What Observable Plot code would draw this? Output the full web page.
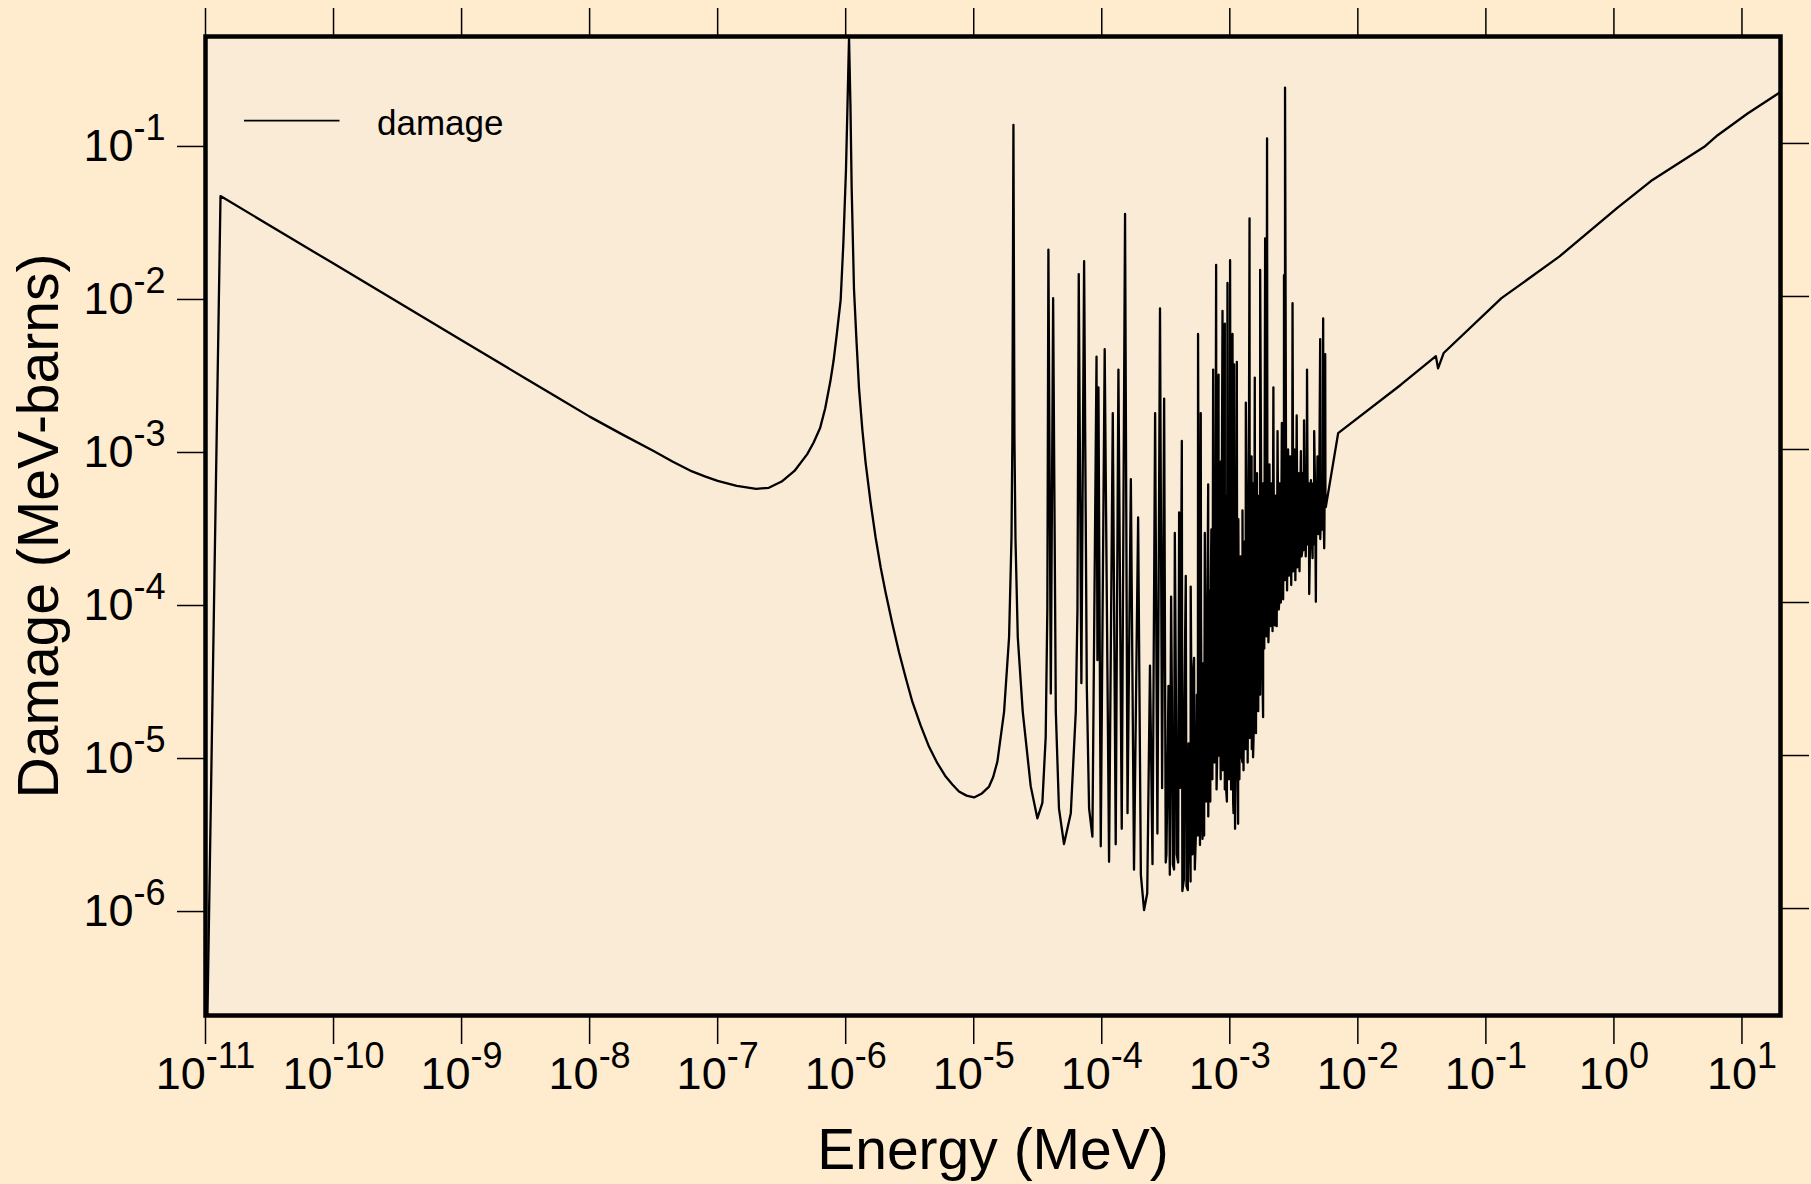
<!DOCTYPE html>
<html><head><meta charset="utf-8">
<script src="https://cdn.jsdelivr.net/npm/d3@7"></script>
<script src="https://cdn.jsdelivr.net/npm/@observablehq/plot@0.6"></script>
<style>
html,body{margin:0;padding:0;background:#FFEBCD;}
#wrap{position:relative;width:1811px;height:1184px;}
</style></head><body><div id="wrap"></div>
<script>
// Energy (MeV) — traced points of the damage curve
const energy = [
1e-11, 1.31e-11, 1e-10, 1e-9, 3.16e-9, 5.62e-9, 1e-8, 1.78e-8, 3.16e-8, 4.47e-8, 6.31e-8, 7.94e-8, 1e-7, 1.41e-7, 2.0e-7, 2.51e-7, 3.16e-7, 3.98e-7, 5.01e-7, 5.62e-7, 6.31e-7, 6.92e-7, 7.59e-7,
8.04e-7, 8.51e-7, 9.14e-7, 9.59e-7, 1.005e-6, 1.033e-6, 1.062e-6, 1.089e-6, 1.114e-6, 1.161e-6, 1.216e-6, 1.271e-6, 1.349e-6, 1.432e-6, 1.567e-6, 1.714e-6, 1.875e-6, 2.05e-6, 2.317e-6, 2.61e-6,
2.95e-6, 3.32e-6, 3.855e-6, 4.48e-6, 5.2e-6, 6.04e-6, 6.81e-6, 7.67e-6, 8.79e-6, 1.005e-5, 1.148e-5, 1.318e-5, 1.419e-5, 1.53e-5, 1.726e-5, 1.888e-5, 1.972e-5, 2.004e-5, 2.042e-5, 2.08e-5,
2.118e-5, 2.208e-5, 2.415e-5, 2.786e-5, 3.14e-5, 3.436e-5, 3.648e-5, 3.758e-5,
3.83e-5, 4.0e-5, 4.17e-5, 4.375e-5, 4.63e-5, 5.07e-5, 5.73e-5, 6.27e-5, 6.46e-5, 6.61e-5, 6.93e-5, 7.28e-5, 7.64e-5, 7.96e-5, 8.45e-5, 9.10e-5, 9.25e-5, 9.42e-5, 9.82e-5, 1.054e-4,
1.14e-4, 1.219e-4, 1.285e-4, 1.349e-4, 1.432e-4, 1.52e-4, 1.589e-4, 1.687e-4, 1.786e-4, 1.923e-4, 2.02e-4, 2.14e-4, 2.265e-4, 2.38e-4, 2.49e-4, 2.61e-4, 2.72e-4, 2.85e-4, 2.96e-4, 3.07e-4,
3.2e-4, 3.32e-4, 3.40e-4, 3.48e-4, 3.59e-4, 3.72e-4, 3.85e-4, 4.02e-4, 4.09e-4, 4.22e-4, 4.375e-4, 4.53e-4, 4.70e-4, 4.95e-4, 5.11e-4, 5.26e-4, 5.42e-4, 5.65e-4, 5.79e-4, 5.93e-4,
6.12e-4, 6.38e-4, 6.58e-4, 6.78e-4, 6.93e-4, 7.11e-4, 7.23e-4, 7.41e-4, 7.59e-4, 7.82e-4, 8.02e-4, 8.17e-4, 8.36e-4, 8.51e-4, 8.65e-4, 8.77e-4, 8.97e-4, 9.14e-4, 9.35e-4, 9.59e-4,
9.82e-4, 1.005e-3, 1.03e-3, 1.05e-3, 1.069e-3, 1.081e-3, 1.099e-3, 1.135e-3, 1.161e-3, 1.219e-3, 1.256e-3, 1.334e-3, 1.374e-3, 1.426e-3, 1.452e-3, 1.479e-3, 1.52e-3, 1.567e-3, 1.603e-3, 1.633e-3,
1.667e-3, 1.726e-3, 1.77e-3, 1.82e-3, 1.888e-3, 1.923e-3, 1.954e-3, 2.03e-3, 2.19e-3, 2.25e-3, 2.36e-3, 2.43e-3, 2.55e-3, 2.61e-3, 2.65e-3, 2.68e-3, 2.70e-3, 2.79e-3, 3.09e-3, 3.18e-3,
3.33e-3, 3.43e-3, 3.59e-3, 3.70e-3, 3.80e-3, 3.89e-3, 4.01e-3, 4.17e-3, 4.30e-3, 4.43e-3, 4.56e-3, 4.70e-3, 4.84e-3, 4.93e-3, 5.08e-3, 5.20e-3, 5.36e-3, 5.46e-3, 5.56e-3, 5.62e-3,
7.02e-3, 2.17e-2, 4.07e-2, 4.23e-2, 4.68e-2, 0.1324, 0.374, 1.057, 1.945, 5.08, 6.46, 11.07, 20.0
];
// Damage (MeV-barns)
const damage = [
3.2e-8, 0.0453, 0.0164, 5.18e-3, 2.91e-3, 2.19e-3, 1.64e-3, 1.26e-3, 9.77e-4, 8.32e-4, 7.19e-4, 6.68e-4, 6.24e-4, 5.79e-4, 5.53e-4, 5.62e-4, 6.17e-4, 7.24e-4, 9.33e-4, 1.11e-3, 1.38e-3, 1.86e-3, 2.79e-3,
3.8e-3, 5.62e-3, 9.55e-3, 2.24e-2, 0.0668, 0.178, 0.49, 0.178, 0.0501, 0.0112, 5.01e-3, 2.51e-3, 1.35e-3, 8.15e-4, 4.47e-4, 2.65e-4, 1.70e-4, 1.164e-4, 7.24e-5, 4.73e-5,
3.2e-5, 2.24e-5, 1.567e-5, 1.14e-5, 8.91e-6, 7.29e-6, 6.46e-6, 5.82e-6, 5.47e-6, 5.32e-6, 5.62e-6, 6.27e-6, 7.24e-6, 9.12e-6, 1.93e-5, 5.93e-5, 2.65e-4, 1.186e-3, 0.1324, 1.186e-3,
2.65e-4, 5.93e-5, 1.93e-5, 6.31e-6, 3.89e-6, 4.90e-6, 1.318e-5, 9.12e-5,
2.02e-2, 2.54e-5, 9.75e-3, 1.95e-5, 4.52e-6, 2.64e-6, 4.2e-6, 1.95e-5, 9.12e-5, 1.40e-2, 2.97e-5, 1.70e-2, 2.85e-5, 4.52e-6, 2.95e-6, 4.04e-3, 4.2e-5, 2.55e-3, 2.55e-6, 4.52e-3,
2.02e-6, 1.73e-3, 2.63e-6, 3.33e-3, 3.32e-6, 3.46e-2, 4.2e-6, 6.4e-4, 1.795e-6, 3.6e-4, 1.66e-6, 9.77e-7, 1.26e-6, 3.87e-5, 1.95e-6, 1.73e-3, 3.09e-6, 8.36e-3, 6.12e-6, 2.15e-3,
2.26e-6, 2.85e-5, 1.66e-6, 1.094e-4, 1.94e-6, 2.85e-4, 2.26e-6, 3.88e-4, 6.14e-6, 1.138e-3, 1.54e-6, 1.49e-4, 1.32e-6, 1.27e-4, 2.26e-6, 4.35e-5, 2.85e-6, 5.69e-3, 4.2e-5, 1.73e-3,
2.85e-6, 2.85e-4, 6.14e-6, 5.92e-4, 9.02e-6, 1.43e-4, 1.94e-5, 3.33e-3, 9.02e-5, 1.61e-2, 1.32e-5, 3.08e-3, 4.2e-5, 8.36e-4, 1.43e-5, 8.05e-3, 4.2e-5, 6.64e-3, 6.14e-6, 1.227e-2,
1.95e-4, 1.73e-2, 6.14e-6, 5.69e-3, 4.2e-6, 3.6e-3, 3.32e-6, 3.74e-3, 3.58e-6, 1.54e-4, 9.02e-6, 2.02e-3, 2.85e-5, 3.24e-2, 4.2e-5, 9.02e-4, 9.73e-6, 2.95e-3, 2.0e-5, 1.78e-4,
1.95e-5, 1.49e-2, 4.2e-5, 1.78e-5, 2.4e-2, 3.16e-4, 0.108, 9.02e-5, 2.55e-3, 7.08e-5, 1.32e-3, 1e-4, 1.49e-3, 1.05e-4, 1.38e-2, 1.26e-3, 0.232, 1.95e-4, 9.04e-3, 1.95e-4,
1.67e-3, 1.95e-4, 9.75e-4, 2.26e-4, 1.55e-3, 2.85e-4, 3.33e-3, 1.135e-4, 6.31e-4, 1.95e-4, 1.32e-3, 1.01e-4, 9.02e-4, 2.85e-4, 5.27e-3, 4.2e-4, 7.18e-3, 2.26e-4, 4.2e-3, 4.2e-4,
1.28e-3, 2.65e-3, 4.07e-3, 3.39e-3, 4.27e-3, 9.75e-3, 1.82e-2, 3.78e-2, 5.68e-2, 9.51e-2, 0.1132, 0.157, 0.217
];
// Unresolved resonance band (dense oscillations between 3e-4 and 5.6e-3 MeV)
const bandEnergy = [
3.16e-4, 3.28e-4, 3.40e-4, 3.53e-4, 3.67e-4, 3.81e-4, 3.95e-4,
4.10e-4, 4.26e-4, 4.42e-4, 4.59e-4, 4.76e-4, 4.94e-4, 5.13e-4, 5.33e-4, 5.53e-4,
5.63e-4, 5.74e-4, 5.85e-4, 5.96e-4, 6.07e-4, 6.18e-4, 6.30e-4, 6.42e-4, 6.54e-4, 6.66e-4, 6.79e-4, 6.91e-4, 7.04e-4,
7.18e-4, 7.31e-4, 7.45e-4, 7.59e-4, 7.73e-4, 7.88e-4, 8.03e-4, 8.18e-4, 8.33e-4, 8.49e-4, 8.65e-4, 8.81e-4,
8.97e-4, 9.14e-4, 9.31e-4, 9.49e-4, 9.67e-4, 9.85e-4, 1.004e-3, 1.023e-3, 1.042e-3, 1.062e-3, 1.082e-3, 1.102e-3,
1.123e-3, 1.144e-3, 1.166e-3, 1.188e-3, 1.210e-3, 1.233e-3, 1.256e-3, 1.280e-3, 1.304e-3, 1.328e-3, 1.353e-3, 1.379e-3, 1.405e-3,
1.431e-3, 1.458e-3, 1.486e-3, 1.514e-3, 1.542e-3, 1.571e-3, 1.601e-3, 1.631e-3, 1.662e-3, 1.693e-3, 1.725e-3, 1.757e-3,
1.790e-3, 1.824e-3, 1.858e-3, 1.893e-3, 1.929e-3, 1.965e-3, 2.002e-3, 2.040e-3, 2.078e-3, 2.117e-3, 2.157e-3, 2.198e-3, 2.239e-3, 2.281e-3, 2.324e-3, 2.368e-3, 2.413e-3, 2.458e-3, 2.504e-3,
2.551e-3, 2.599e-3, 2.648e-3, 2.698e-3, 2.749e-3, 2.801e-3, 2.853e-3, 2.907e-3, 2.962e-3, 3.018e-3, 3.075e-3, 3.132e-3, 3.191e-3, 3.251e-3, 3.312e-3, 3.375e-3, 3.438e-3, 3.503e-3,
3.569e-3, 3.636e-3, 3.705e-3, 3.775e-3, 3.846e-3, 3.918e-3, 3.992e-3, 4.067e-3, 4.144e-3, 4.222e-3, 4.302e-3, 4.383e-3, 4.465e-3, 4.549e-3, 4.635e-3, 4.722e-3, 4.811e-3, 4.902e-3, 4.994e-3, 5.088e-3, 5.184e-3, 5.282e-3, 5.381e-3, 5.483e-3, 5.586e-3
];
const bandDamage = [
2.0e-6, 1.2e-5, 2.2e-6, 2.5e-5, 1.8e-6, 1.5e-5, 2.0e-6,
1.5e-5, 1.3e-6, 2.2e-5, 1.4e-6, 1.2e-5, 1.5e-6, 3.0e-5, 1.8e-6, 2.5e-5,
3.0e-6, 5.0e-5, 2.6e-6, 8.0e-5, 4.0e-6, 4.0e-5, 3.0e-6, 1.0e-4, 5.0e-6, 6.0e-5, 4.0e-6, 1.2e-4, 5.0e-6,
3.0e-4, 7.0e-6, 4.0e-4, 9.0e-6, 2.5e-4, 6.0e-6, 5.0e-4, 1.0e-5, 3.0e-4, 7.0e-6, 4.0e-4, 8.0e-6,
3.5e-4, 6.0e-6, 5.0e-4, 5.0e-6, 3.0e-4, 7.0e-6, 4.0e-4, 6.0e-6, 6.0e-4, 5.0e-6, 3.0e-4, 8.0e-6,
2.5e-4, 9.0e-6, 3.5e-4, 7.0e-6, 2.0e-4, 1.0e-5, 4.0e-4, 8.0e-6, 2.5e-4, 1.1e-5, 5.0e-4, 9.0e-6, 3.0e-4,
1.3e-5, 5.0e-4, 1.1e-5, 6.0e-4, 1.6e-5, 4.0e-4, 1.4e-5, 7.0e-4, 2.0e-5, 5.0e-4, 2.5e-5, 6.0e-4,
4.0e-5, 6.0e-4, 5.0e-5, 7.0e-4, 6.0e-5, 5.0e-4, 5.5e-5, 8.0e-4, 7.0e-5, 6.0e-4, 6.5e-5, 7.0e-4, 8.0e-5, 5.0e-4, 7.0e-5, 8.0e-4, 9.0e-5, 6.0e-4, 1.0e-4,
9.0e-4, 1.2e-4, 1.1e-3, 1.4e-4, 8.0e-4, 1.2e-4, 1.0e-3, 1.5e-4, 9.0e-4, 1.3e-4, 8.0e-4, 1.6e-4, 1.0e-3, 1.4e-4, 8.0e-4, 1.7e-4, 7.0e-4, 1.6e-4,
6.5e-4, 2.0e-4, 7.0e-4, 2.2e-4, 6.0e-4, 2.0e-4, 6.5e-4, 2.4e-4, 6.0e-4, 2.2e-4, 5.5e-4, 2.5e-4, 6.0e-4, 2.4e-4, 5.5e-4, 2.6e-4, 5.0e-4, 2.8e-4, 5.5e-4, 2.6e-4, 5.0e-4, 3.0e-4, 4.8e-4, 3.0e-4, 4.5e-4
];
const xTicks = [1e-11, 1e-10, 1e-9, 1e-8, 1e-7, 1e-6, 1e-5, 1e-4, 1e-3, 1e-2, 1e-1, 1, 10];
const yTicks = [1e-6, 1e-5, 1e-4, 1e-3, 1e-2, 1e-1];
const xDomain = [1e-11, 20];
const yDomain = [2e-7, 0.5];
const seriesName = "damage";
const xLabel = "Energy (MeV)";
const yLabel = "Damage (MeV-barns)";

const data = d3.sort(
  [...energy.map((e, i) => ({energy: e, damage: damage[i]})),
   ...bandEnergy.map((e, i) => ({energy: e, damage: bandDamage[i]}))],
  d => d.energy
);
const expFormat = d => String(Math.round(Math.log10(d)));
const FONT = "'Liberation Sans', Arial, Helvetica, sans-serif";

const plot = Plot.plot({
  width: 1811, height: 1184,
  marginLeft: 205, marginRight: 31, marginTop: 36, marginBottom: 169,
  style: {background: "transparent", fontFamily: FONT, color: "black", overflow: "visible"},
  x: {type: "log", domain: xDomain, label: null},
  y: {type: "log", domain: yDomain, label: null},
  marks: [
    Plot.frame({fill: "#FAEBD7", stroke: null}),
    Plot.line(data, {x: "energy", y: "damage", stroke: "black", strokeWidth: 2.3, clip: true}),
    Plot.axisX({anchor: "bottom", ticks: xTicks, tickSize: 29, tickPadding: 13, fontSize: 45, stroke: "black", strokeWidth: 1.5, fill: "black", tickFormat: expFormat, label: null}),
    Plot.axisX({anchor: "top", ticks: xTicks, tickSize: 29, stroke: "black", strokeWidth: 1.5, tickFormat: () => "", label: null}),
    Plot.axisY({anchor: "left", ticks: yTicks, tickSize: 28, tickPadding: 12, fontSize: 45, dy: 3, stroke: "black", strokeWidth: 1.5, fill: "black", tickFormat: expFormat, label: null}),
    Plot.axisY({anchor: "right", ticks: yTicks, tickSize: 28, stroke: "black", strokeWidth: 1.5, tickFormat: () => "", label: null}),
    Plot.frame({stroke: "black", strokeWidth: 4.5}),
    Plot.text([xLabel], {frameAnchor: "bottom", text: d => d, textAnchor: "middle", lineAnchor: "bottom", dy: 153, fontSize: 57, fill: "black"}),
    Plot.text([yLabel], {frameAnchor: "left", text: d => d, rotate: -90, textAnchor: "middle", lineAnchor: "bottom", dx: -148, fontSize: 57, fill: "black"})
  ]
});

// superscript exponents on tick labels: "10" + raised exponent
const NS = "http://www.w3.org/2000/svg";
d3.select(plot).selectAll('g[aria-label="x-axis tick label"] text, g[aria-label="y-axis tick label"] text').each(function() {
  const exp = this.textContent;
  if (!exp) return;
  this.textContent = "";
  const base = document.createElementNS(NS, "tspan");
  base.textContent = "10";
  const sup = document.createElementNS(NS, "tspan");
  sup.setAttribute("font-size", "36");
  sup.setAttribute("dy", "-21");
  sup.textContent = exp;
  this.appendChild(base);
  this.appendChild(sup);
});

// legend (inside plot area, top-left)
const lg = d3.select(plot).append("g").attr("class", "legend");
lg.append("line").attr("x1", 244).attr("x2", 339.5).attr("y1", 120.7).attr("y2", 120.7)
  .attr("stroke", "black").attr("stroke-width", 1.8);
lg.append("text").attr("x", 377).attr("y", 135).attr("font-size", 35).attr("text-anchor", "start")
  .attr("font-family", FONT).attr("fill", "black").text(seriesName);

document.getElementById("wrap").appendChild(plot);
</script>
</body></html>
